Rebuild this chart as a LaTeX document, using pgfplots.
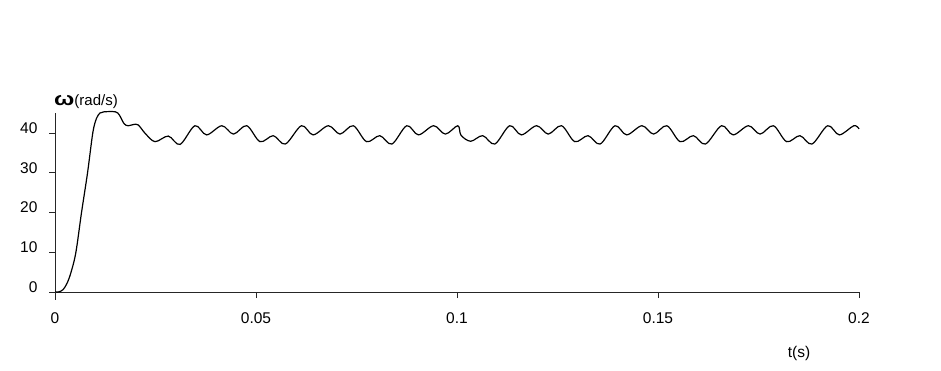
\documentclass[border=0pt]{standalone}
\usepackage{pgfplots}
\pgfplotsset{compat=1.18}
\usepackage{fontspec}
\setmainfont{Liberation Sans}
\usepackage{graphicx}
\begin{document}
\begin{tikzpicture}
\path[use as bounding box] (0,0) rectangle (941pt,370pt);
\begin{axis}[
  at={(55pt,78pt)}, anchor=south west,
  scale only axis, width=804pt, height=179pt,
  xmin=0, xmax=0.2, ymin=0, ymax=45,
  axis x line=bottom, axis y line=left,
  axis line style={-, line width=0.9pt, black!85},
  clip=false,
  xtick={0,0.05,0.1,0.15,0.2},
  xticklabels={0,0.05,0.1,0.15,0.2},
  ytick={0,10,20,30,40},
  tick align=outside,
  x tick style={line width=0.7pt, black!85},
  y tick style={line width=0.7pt, black!85},
  major tick length=6pt,
  /pgf/number format/assume math mode=true,
  tick label style={font=\fontsize{15.5}{17}\selectfont},
  xticklabel style={yshift=-11pt},
  yticklabel style={xshift=-8pt, yshift=5pt},
]
\addplot[black, line width=1.2pt, smooth, tension=0.55] coordinates {
(0,0) (0.001,0.05) (0.002,0.6) (0.003,2.2) (0.004,5) (0.0052,10) (0.0066,20)
(0.0081,30) (0.0094,40) (0.0103,43.6) (0.0112,45) (0.0122,45.3) (0.0150,45.3)
(0.0160,44.5) (0.0172,42.3) (0.0182,41.8) (0.0195,42.1) (0.0207,42.0)
(0.0225,39.8) (0.0249,37.8) (0.0282,39.2) (0.0311,37.1)
(0.0348,41.8) (0.0377,39.5) (0.0415,41.8) (0.0444,39.7) (0.0477,41.8) (0.0510,37.8) (0.0543,39.3) (0.0573,37.2)
(0.0613,41.8) (0.0642,39.5) (0.0680,41.8) (0.0709,39.7) (0.0742,41.8) (0.0775,37.8) (0.0808,39.3) (0.0838,37.2)
(0.0875,41.8) (0.0904,39.5) (0.0942,41.8) (0.0971,39.7) (0.1002,41.8) (0.1010,39.4) (0.1034,37.9) (0.1064,39.3) (0.1094,37.2)
(0.1131,41.8) (0.1160,39.5) (0.1198,41.8) (0.1227,39.7) (0.1260,41.8) (0.1293,37.8) (0.1326,39.3) (0.1356,37.2)
(0.1393,41.8) (0.1422,39.5) (0.1460,41.8) (0.1489,39.7) (0.1522,41.8) (0.1555,37.8) (0.1588,39.3) (0.1618,37.2)
(0.1658,41.8) (0.1687,39.5) (0.1725,41.8) (0.1754,39.7) (0.1787,41.8) (0.1820,37.8) (0.1853,39.3) (0.1883,37.2)
(0.1922,41.8) (0.1951,39.5) (0.1987,41.8) (0.2,41.0)
};
\draw[line width=0.7pt, black!85] (axis cs:0,0) -- ++(0,-8pt);
\end{axis}
\node[anchor=west, inner sep=0pt] at (54pt,268pt) {\scalebox{1.6}[1.25]{\bfseries\fontsize{15}{17}\selectfont ω}\fontsize{15}{17}\selectfont(rad/s)};
\node[inner sep=0pt] at (799pt,17pt) {\fontsize{15.5}{17}\selectfont t(s)};
\end{tikzpicture}
\end{document}
